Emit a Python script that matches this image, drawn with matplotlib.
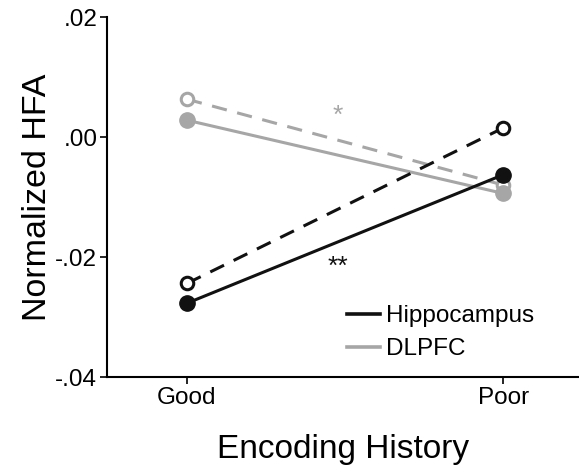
import matplotlib
matplotlib.use("Agg")
import matplotlib.pyplot as plt
from matplotlib.lines import Line2D

plt.rcParams['font.family'] = ['Liberation Sans', 'DejaVu Sans']

# data
conditions = ['Good', 'Poor']
hipp_solid = [-0.0277, -0.0063]
hipp_dashed = [-0.0244, 0.0015]
dlpfc_solid = [0.0028, -0.0094]
dlpfc_dashed = [0.0063, -0.0080]
yticks = [-0.04, -0.02, 0.00, 0.02]
ytick_labels = ['-.04', '-.02', '.00', '.02']

black = '#111111'
gray = '#a6a6a6'

fig = plt.figure(figsize=(5.79, 4.72), dpi=100)
ax = fig.add_axes([107 / 579, 95 / 472, 472 / 579, 360 / 472])

x = [0, 1]
lw = 2.2
dash = (5, 3.5)

# DLPFC
ax.plot(x, dlpfc_dashed, color=gray, lw=lw, dashes=dash, marker='o', ms=9,
        mfc='white', mec=gray, mew=2.2, zorder=2)
ax.plot(x, dlpfc_solid, color=gray, lw=lw, marker='o', ms=11,
        mfc=gray, mec=gray, zorder=2)
# Hippocampus
ax.plot(x, hipp_dashed, color=black, lw=lw, dashes=dash, marker='o', ms=9,
        mfc='white', mec=black, mew=2.2, zorder=3)
ax.plot(x, hipp_solid, color=black, lw=lw, marker='o', ms=11,
        mfc=black, mec=black, zorder=3)

ax.text(0.478, 0.0035, '*', color=gray, fontsize=19, ha='center', va='center')
ax.text(0.478, -0.0216, '**', color=black, fontsize=19, ha='center', va='center')

ax.set_xlim(-0.253, 1.24)
ax.set_ylim(-0.04, 0.02)
ax.set_xticks(x)
ax.set_xticklabels(conditions)
ax.set_yticks(yticks)
ax.set_yticklabels(ytick_labels)
ax.tick_params(direction='out', length=5, width=1.2, labelsize=17.5, pad=2)

for s in ['top', 'right']:
    ax.spines[s].set_visible(False)
for s in ['left', 'bottom']:
    ax.spines[s].set_linewidth(1.5)

ax.set_xlabel('Encoding History', fontsize=24, labelpad=18)
ax.set_ylabel('Normalized HFA', fontsize=24.5, labelpad=1.5)

handles = [Line2D([], [], color=black, lw=2.6), Line2D([], [], color=gray, lw=2.6)]
ax.legend(handles, ['Hippocampus', 'DLPFC'], loc='lower left',
          bbox_to_anchor=(0.483, 0.013), frameon=False, fontsize=17.5,
          handlelength=1.35, handletextpad=0.25, labelspacing=0.45, borderpad=0)

fig.savefig('out.png', dpi=100)
